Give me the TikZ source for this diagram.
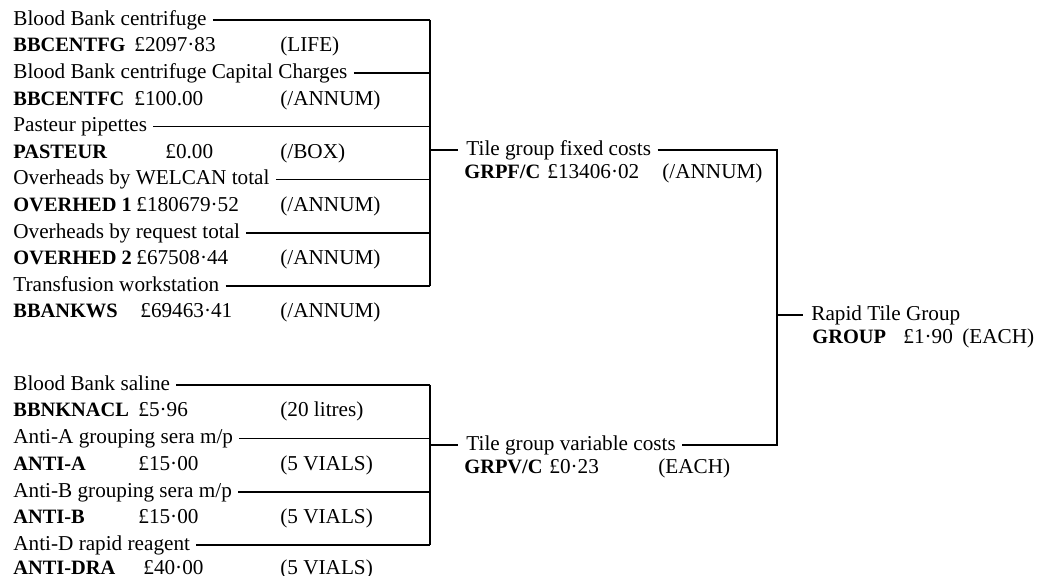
\documentclass[tikz,border=0pt]{standalone}
\usepackage{fontspec}
\setmainfont{Liberation Serif}
\usetikzlibrary{positioning}

\begin{document}
\begin{tikzpicture}[
  x=0.5pt, y=-0.5pt,
  every node/.style={font=\fontsize{10.6}{12}\selectfont},
  item/.style={anchor=west, inner sep=0pt, text height=7.4pt, text depth=2.1pt},
  code/.style={item, font=\fontsize{10.2}{12}\selectfont\bfseries},
  link/.style={line width=0.75pt},
  node distance=0pt and 18pt
]
  \useasboundingbox (0,0) rectangle (1043,576);

  % Fixed cost items
  \node[item] (centfg) at (13,20) {Blood Bank centrifuge};
  \node[code] (centfgc) at (13,46.6) {BBCENTFG};
  \node[item] (centfgp) at (134,46.6) {£2097·83};
  \node[item] (centfgu) at (280,46.6) {(LIFE)};

  \node[item] (centfc) at (13,73.2) {Blood Bank centrifuge Capital Charges};
  \node[code] (centfcc) at (13,99.8) {BBCENTFC};
  \node[item] (centfcp) at (134,99.8) {£100.00};
  \node[item] (centfcu) at (280,99.8) {(/ANNUM)};

  \node[item] (pasteur) at (13,126.4) {Pasteur pipettes};
  \node[code] (pasteurc) at (13,153) {PASTEUR};
  \node[item] (pasteurp) at (165,153) {£0.00};
  \node[item] (pasteuru) at (280,153) {(/BOX)};

  \node[item] (overh1) at (13,179.6) {Overheads by WELCAN total};
  \node[code] (overh1c) at (13,206.2) {OVERHED 1};
  \node[item] (overh1p) at (136,206.2) {£180679·52};
  \node[item] (overh1u) at (280,206.2) {(/ANNUM)};

  \node[item] (overh2) at (13,232.8) {Overheads by request total};
  \node[code] (overh2c) at (13,259.4) {OVERHED 2};
  \node[item] (overh2p) at (136,259.4) {£67508·44};
  \node[item] (overh2u) at (280,259.4) {(/ANNUM)};

  \node[item] (bbankws) at (13,286) {Transfusion workstation};
  \node[code] (bbankwsc) at (13,312.6) {BBANKWS};
  \node[item] (bbankwsp) at (140,312.6) {£69463·41};
  \node[item] (bbankwsu) at (280,312.6) {(/ANNUM)};

  % Variable cost items
  \node[item] (saline) at (13,385) {Blood Bank saline};
  \node[code] (salinec) at (13,411.6) {BBNKNACL};
  \node[item] (salinep) at (138,411.6) {£5·96};
  \node[item] (salineu) at (280,411.6) {(20 litres)};

  \node[item] (antia) at (13,438.5) {Anti-A grouping sera m/p};
  \node[code] (antiac) at (13,465) {ANTI-A};
  \node[item] (antiap) at (138,465) {£15·00};
  \node[item] (antiau) at (280,465) {(5 VIALS)};

  \node[item] (antib) at (13,492) {Anti-B grouping sera m/p};
  \node[code] (antibc) at (13,518.5) {ANTI-B};
  \node[item] (antibp) at (138,518.5) {£15·00};
  \node[item] (antibu) at (280,518.5) {(5 VIALS)};

  \node[item] (antid) at (13,545) {Anti-D rapid reagent};
  \node[code] (antidc) at (13,569.5) {ANTI-DRA};
  \node[item] (antidp) at (143,569.5) {£40·00};
  \node[item] (antidu) at (280,569.5) {(5 VIALS)};

  % Junctions
  \coordinate (fixjn) at (430,150);
  \coordinate (varjn) at (430,445);
  \coordinate (rapidjn) at (777,315);

  % Tile group totals
  \node[item, right=of fixjn] (fixed) {Tile group fixed costs};
  \node[code] (fixedc) at (464,173) {GRPF/C};
  \node[item] (fixedp) at (547,173) {£13406·02};
  \node[item] (fixedu) at (662,173) {(/ANNUM)};

  \node[item, right=of varjn] (var) {Tile group variable costs};
  \node[code] (varc) at (464,468) {GRPV/C};
  \node[item] (varp) at (549,468) {£0·23};
  \node[item] (varu) at (658,468) {(EACH)};

  \node[item, right=17pt of rapidjn] (rapid) {Rapid Tile Group};
  \node[code] (rapidc) at (812,338) {GROUP};
  \node[item] (rapidp) at (903,338) {£1·90};
  \node[item] (rapidu) at (962,338) {(EACH)};

  % Fixed cost bus
  \foreach \n in {centfg,centfc,pasteur,overh1,overh2,bbankws}
    \draw[link] ([xshift=3pt]\n.east) -- (\n.east -| fixjn);
  \draw[link] (centfg.east -| fixjn) -- (bbankws.east -| fixjn);
  \draw[link] (fixjn) -- ([xshift=-4pt]fixed.west);

  % Variable cost bus
  \foreach \n in {saline,antia,antib,antid}
    \draw[link] ([xshift=3pt]\n.east) -- (\n.east -| varjn);
  \draw[link] (saline.east -| varjn) -- (antid.east -| varjn);
  \draw[link] (varjn) -- ([xshift=-4pt]var.west);

  % Group bus
  \draw[link] ([xshift=3pt]fixed.east) -| (rapidjn) |- ([xshift=3pt]var.east);
  \draw[link] (rapidjn) -- ([xshift=-4pt]rapid.west);
\end{tikzpicture}
\end{document}
